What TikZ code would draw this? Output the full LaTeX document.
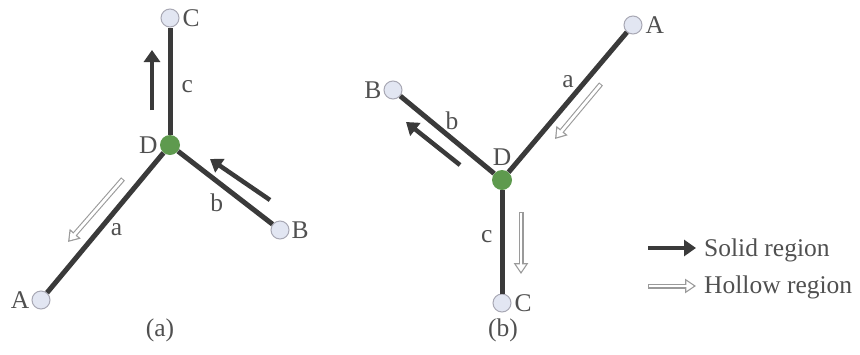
\documentclass[tikz,border=0pt]{standalone}
\usepackage{fontspec}
\setmainfont{Liberation Serif}
\usetikzlibrary{arrows.meta,positioning}
\definecolor{edgegray}{HTML}{3A3A3A}
\definecolor{textgray}{HTML}{505050}
\definecolor{nodefill}{HTML}{E2E6F2}
\definecolor{nodeline}{HTML}{A8A8B4}
\definecolor{midgreen}{HTML}{5E9A4E}
\definecolor{hollowgray}{HTML}{9A9A9A}
\begin{document}
\begin{tikzpicture}[x=1pt, y=-1pt,
    end node/.style={circle, draw=nodeline, fill=nodefill, line width=1pt, minimum size=18pt, inner sep=0pt},
    mid node/.style={circle, fill=midgreen, minimum size=20pt, inner sep=0pt},
    lbl/.style={text=textgray, font=\fontsize{25.5}{30}\selectfont, inner sep=1pt},
    branch/.style={draw=edgegray, line width=5pt},
    solid arrow/.style={draw=edgegray, line width=4.5pt, -{Triangle[length=12pt, width=16pt]}},
    hollow arrow/.style={draw=hollowgray, line width=5pt, -{Triangle[length=11pt, width=14pt]},
        postaction={draw=white, line width=2.8pt, shorten <=1pt, shorten >=2.2pt, -{Triangle[length=7.5pt, width=9.5pt]}}}]

    \useasboundingbox (0,0) rectangle (860,354);

    % figure (a)
    \node[end node] (aC) at (170,18) {};
    \node[mid node] (aD) at (170,145) {};
    \node[end node] (aA) at (41,300) {};
    \node[end node] (aB) at (280,230) {};

    \node[lbl, right=2pt of aC] (taC) {C};
    \node[lbl, left=1pt of aD] (taD) {D};
    \node[lbl, left=1pt of aA] (taA) {A};
    \node[lbl, right=1pt of aB] (taB) {B};

    \draw[branch] (aD) -- node[lbl, pos=0.45, right=8pt] (lac) {c} (aC);
    \draw[branch] (aD) -- node[lbl, pos=0.55, right=8pt] (laa) {a} (aA);
    \draw[branch] (aD) -- node[lbl, pos=0.45, below left=6pt and -6pt] (lab) {b} (aB);

    \coordinate (ac1) at (152,110);
    \coordinate (ac2) at (152,50);
    \coordinate (ab1) at (270,200);
    \coordinate (ab2) at (210,159);
    \coordinate (aa1) at (123,179);
    \coordinate (aa2) at (68,242);
    \draw[solid arrow] (ac1) -- (ac2);
    \draw[solid arrow] (ab1) -- (ab2);
    \draw[hollow arrow] (aa1) -- (aa2);

    \node[lbl] (capa) at (160,330) {(a)};

    % figure (b)
    \node[end node] (bA) at (633,25) {};
    \node[end node] (bB) at (393,90) {};
    \node[mid node] (bD) at (502,180) {};
    \node[end node] (bC) at (502,303) {};

    \node[lbl, right=2pt of bA] (tbA) {A};
    \node[lbl, left=1pt of bB] (tbB) {B};
    \node[lbl, above=3pt of bD] (tbD) {D};
    \node[lbl, right=2pt of bC] (tbC) {C};

    \draw[branch] (bD) -- node[lbl, pos=0.58, above left=0pt and 0pt] (lba) {a} (bA);
    \draw[branch] (bD) -- node[lbl, pos=0.45, above=5pt] (lbb) {b} (bB);
    \draw[branch] (bD) -- node[lbl, pos=0.45, left=6pt] (lbc) {c} (bC);

    \coordinate (ba1) at (601,84);
    \coordinate (ba2) at (555,139);
    \coordinate (bb1) at (460,165);
    \coordinate (bb2) at (406,122);
    \coordinate (bc1) at (521,212);
    \coordinate (bc2) at (521,274);
    \draw[hollow arrow] (ba1) -- (ba2);
    \draw[solid arrow] (bb1) -- (bb2);
    \draw[hollow arrow] (bc1) -- (bc2);

    \node[lbl] (capb) at (503,330) {(b)};

    % legende
    \coordinate (ls1) at (648,248);
    \coordinate (ls2) at (696,248);
    \coordinate (lh1) at (648,286);
    \coordinate (lh2) at (696,286);
    \draw[solid arrow] (ls1) -- (ls2);
    \draw[hollow arrow] (lh1) -- (lh2);
    \node[lbl, anchor=west] (tsolid) at (703,250) {Solid region};
    \node[lbl, anchor=west] (thollow) at (703,287) {Hollow region};
\end{tikzpicture}
\end{document}
